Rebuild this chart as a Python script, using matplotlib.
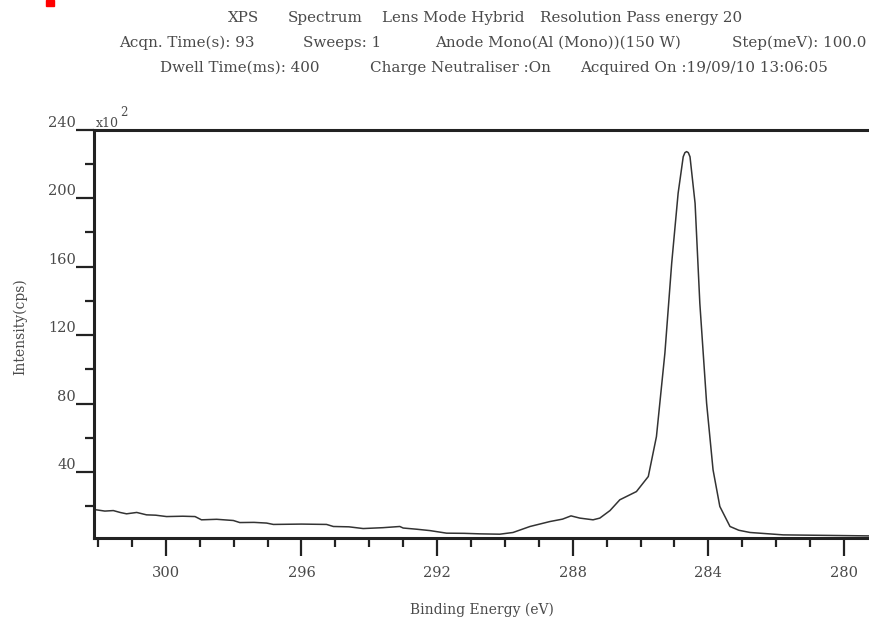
import matplotlib.pyplot as plt
from matplotlib.patches import Rectangle

# C 1s region, binding energy (eV) and intensity (x10^2 cps)
energy = [302.1, 302.04, 301.8, 301.55, 301.35, 301.16, 300.86, 300.57, 300.3,
          299.98, 299.5, 299.14, 298.95, 298.5, 298.01, 297.82, 297.4, 297.03,
          296.83, 296.0, 295.26, 295.06, 294.6, 294.18, 293.6, 293.1, 293.0,
          292.6, 292.21, 291.72, 291.2, 290.74, 290.15, 289.76, 289.26, 288.67,
          288.3, 288.05, 287.79, 287.4, 287.2, 286.9, 286.61, 286.12, 285.77,
          285.53, 285.28, 285.08, 284.89, 284.74, 284.69, 284.64, 284.59, 284.54,
          284.39, 284.25, 284.05, 283.86, 283.66, 283.36, 283.1, 282.77, 281.79,
          280.5, 279.26]
intensity = [18.0, 17.9, 17.2, 17.5, 16.4, 15.6, 16.4, 15.0, 14.8,
             14.0, 14.2, 14.0, 12.1, 12.4, 11.7, 10.5, 10.6, 10.2,
             9.4, 9.6, 9.4, 8.2, 8.0, 7.0, 7.5, 8.2, 7.3,
             6.6, 5.8, 4.3, 4.2, 3.9, 3.7, 4.7, 8.2, 11.1,
             12.5, 14.4, 13.1, 12.1, 13.1, 17.5, 23.8, 28.6, 37.4,
             60.7, 109.6, 162.0, 202.9, 224.2, 226.6, 227.2, 226.6, 224.2,
             197.0, 138.6, 80.2, 41.3, 19.9, 8.2, 6.0, 4.7, 3.3,
             3.0, 2.7]

x_major = [300, 296, 292, 288, 284, 280]
y_major = [40, 80, 120, 160, 200, 240]

# header lines: (y, [(x, anchor, text), ...]) in pixels
header = [
    (18, [(228, 'left', "XPS"), (288, 'left', "Spectrum"),
          (382, 'left', "Lens Mode Hybrid"),
          (540, 'left', "Resolution Pass energy 20")]),
    (43, [(119, 'left', "Acqn. Time(s): 93"), (303, 'left', "Sweeps: 1"),
          (435, 'left', "Anode Mono(Al (Mono))(150 W)"),
          (866, 'right', "Step(meV): 100.0")]),
    (68, [(160, 'left', "Dwell Time(ms): 400"),
          (370, 'left', "Charge Neutraliser :On"),
          (580, 'left', "Acquired On :19/09/10 13:06:05")]),
]

W, H = 869, 620
plt.rcParams['font.family'] = ['DejaVu Serif']
txt = '#4a4a4a'

fig = plt.figure(figsize=(W / 100, H / 100), dpi=100)
ax = fig.add_axes([94 / W, 1 - 538.3 / H, (W - 94) / W, (538.3 - 129.7) / H])

ax.plot(energy, intensity, color='#333333', lw=1.1)
ax.set_xlim(302.12, 279.26)
ax.set_ylim(1.3, 240)

ax.spines['right'].set_visible(False)
for s in ('left', 'top', 'bottom'):
    ax.spines[s].set_linewidth(2.2)
    ax.spines[s].set_color('#222222')

ax.set_xticks(x_major)
ax.set_xticks(range(280, 303), minor=True)
ax.set_yticks(y_major)
ax.set_yticks(range(20, 240, 40), minor=True)
ax.tick_params(which='major', direction='out', length=13, width=1.6,
               color='#222222', labelcolor=txt, labelsize=10.5)
ax.tick_params(which='minor', direction='out', length=6.5, width=1.6,
               color='#222222')
ax.tick_params(axis='x', pad=7)
ax.tick_params(axis='y', pad=0)
for lab in ax.get_yticklabels():
    lab.set_verticalalignment('bottom')

ax.set_xlabel("Binding Energy (eV)", color=txt, fontsize=10, labelpad=16)
fig.text(20 / W, 1 - 327 / H, "Intensity(cps)", color=txt, fontsize=10,
         rotation=90, ha='center', va='center')

# axis multiplier
fig.text(96 / W, 1 - 127 / H, "x10", color=txt, fontsize=9, va='baseline')
fig.text(120 / W, 1 - 116 / H, "2", color=txt, fontsize=8.5, va='baseline')

for y, parts in header:
    for x, ha, s in parts:
        fig.text(x / W, 1 - y / H, s, color=txt, fontsize=10.9,
                 ha=ha, va='center')

fig.patches.append(Rectangle((46 / W, 1 - 6 / H), 8 / W, 6 / H,
                             transform=fig.transFigure, color='red'))

fig.savefig('out.png', dpi=100)
